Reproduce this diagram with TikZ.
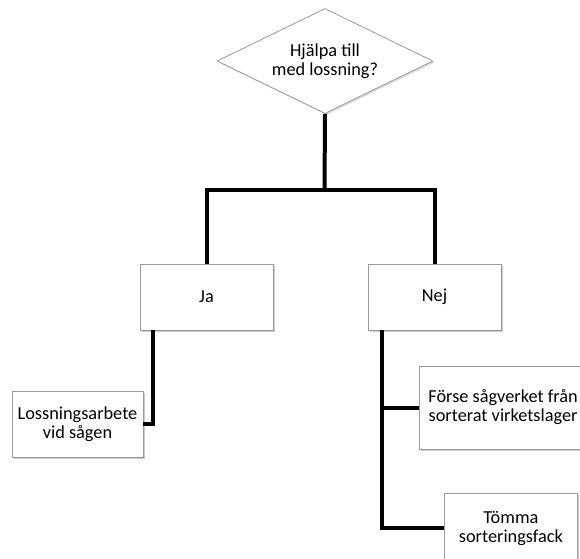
\documentclass[tikz,border=0pt]{standalone}
\usepackage{fontspec}
\setmainfont{Carlito}
\usetikzlibrary{shapes.geometric,shadows,calc}

\tikzset{
  box/.style={draw=black!40, line width=0.8pt, fill=white, align=center,
    minimum width=133pt, minimum height=66pt, inner sep=9pt,
    drop shadow={shadow xshift=2pt, shadow yshift=-2pt, opacity=0.35, fill=black!60},
    font=\fontsize{18.3}{19}\selectfont},
  decision/.style={diamond, draw=black!40, line width=0.8pt, fill=white, align=center,
    minimum width=216pt, minimum height=105pt, shape aspect=2.06, inner sep=0pt,
    drop shadow={shadow xshift=1.5pt, shadow yshift=-1.5pt, opacity=0.25, fill=black!60},
    font=\fontsize{18.3}{19.5}\selectfont},
  conn/.style={line width=4pt, black, line cap=butt, line join=miter}
}

\begin{document}
\begin{tikzpicture}[x=1pt, y=-1pt]
  \useasboundingbox (0,0) rectangle (580,558);
  \clip (0,0) rectangle (580,558);

  % decision at the top
  \node[decision] (q) at (325,61) {Hjälpa till\\med lossning?};
  \coordinate (split) at (324.5,190);

  % first level of answers
  \node[box] (ja)  at (206.5,297) {Ja};
  \node[box] (nej) at (434.5,297) {Nej};

  % consequences
  \node[box, minimum width=131pt, inner xsep=3pt] (loss) at (77.5,424) {Lossningsarbete\\vid sågen};
  \node[box, anchor=west, minimum height=83pt] (forse) at (419,407.5) {Förse sågverket från\\sorterat virketslager};
  \node[box, anchor=north west, minimum height=70pt] (tomma) at (444,493) {Tömma\\sorteringsfack};

  % connectors
  \draw[conn] (q.south) -- (split);
  \draw[conn] (ja.north) |- (split) -| (nej.north);
  \draw[conn] ($(ja.south west)+(13.5,0)$) |- (loss.east);
  \draw[conn] ($(nej.south west)+(14,0)$) |- (forse.west);
  \draw[conn] ($(nej.south west)+(14,0)$) |- (tomma.west);
\end{tikzpicture}
\end{document}
